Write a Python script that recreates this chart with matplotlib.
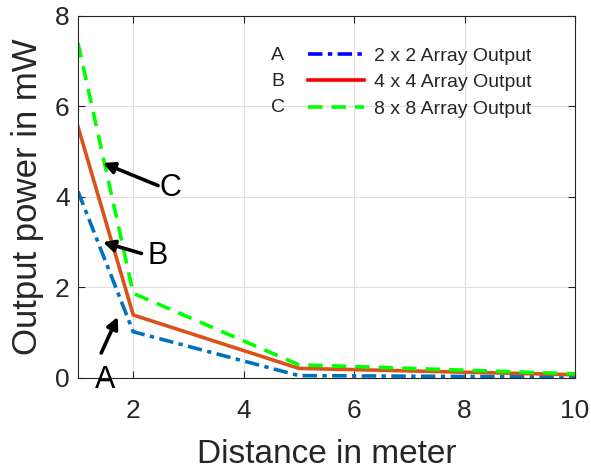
import matplotlib
matplotlib.use("Agg")
import matplotlib.pyplot as plt
from matplotlib.lines import Line2D

plt.rcParams['font.family'] = ['Liberation Sans', 'DejaVu Sans']

distance = [1, 2, 5, 10]
out_2x2 = [4.12, 1.02, 0.05, 0.02]
out_4x4 = [5.55, 1.39, 0.21, 0.07]
out_8x8 = [7.40, 1.87, 0.29, 0.09]

legend_labels = ['2 x 2 Array Output', '4 x 4 Array Output', '8 x 8 Array Output']
legend_tags = ['A', 'B', 'C']

txt = '#262626'

fig = plt.figure(figsize=(5.91, 4.70), dpi=100)
ax = fig.add_axes([0.132, 0.196, 0.841, 0.770])

ax.plot(distance, out_2x2, color='#0072BD', lw=2.6, linestyle=(0, (4, 1.5, 1.2, 1.5)))
ax.plot(distance, out_4x4, color='#D95319', lw=2.6)
ax.plot(distance, out_8x8, color='#00FF00', lw=2.6, linestyle=(0, (4, 2.5)))

ax.set_xlim(1, 10)
ax.set_ylim(0, 8)
ax.set_xticks([2, 4, 6, 8, 10])
ax.set_yticks([0, 2, 4, 6, 8])
ax.grid(True, color='#e0e0e0', lw=0.8)
ax.tick_params(labelsize=19, colors=txt, direction='in', length=5, top=True, right=True)
ax.tick_params(axis='x', pad=15)
ax.tick_params(axis='y', pad=6)
for s in ax.spines.values():
    s.set_color(txt)
    s.set_linewidth(0.8)
ax.set_xlabel('Distance in meter', fontsize=24, color=txt, labelpad=12)
ax.set_ylabel('Output power in mW', fontsize=25, color=txt, labelpad=8)

# annotations
arrow = dict(arrowstyle='-|>', color='black', lw=2.6, mutation_scale=17, shrinkA=0, shrinkB=0)
ax.annotate('', xy=(1.45, 4.75), xytext=(2.45, 4.25), arrowprops=arrow)
ax.text(2.47, 4.2, 'C', fontsize=22, color='black', va='center', ha='left')
ax.annotate('', xy=(1.45, 3.0), xytext=(2.15, 2.75), arrowprops=arrow)
ax.text(2.26, 2.7, 'B', fontsize=22, color='black', va='center', ha='left')
ax.annotate('', xy=(1.72, 1.35), xytext=(1.42, 0.55), arrowprops=arrow)
ax.text(1.49, -0.05, 'A', fontsize=22, color='black', va='center', ha='center', clip_on=False)

# legend
handles = [Line2D([], [], color='#0000FF', lw=2.6, linestyle=(0, (4, 1.5, 1.2, 1.5))),
           Line2D([], [], color='#FF0000', lw=2.6),
           Line2D([], [], color='#00FF00', lw=2.6, linestyle=(0, (4, 2.5)))]
leg = ax.legend(handles, legend_labels, loc='upper left', bbox_to_anchor=(0.447, 0.935),
                frameon=False, fontsize=14, handlelength=2.9, handletextpad=0.5,
                labelspacing=0.45, borderaxespad=0)
for t in leg.get_texts():
    t.set_color(txt)
for i, tag in enumerate(legend_tags):
    ax.text(0.402, 0.892 - i * 0.072, tag, transform=ax.transAxes, fontsize=14,
            color=txt, ha='center', va='center')

fig.savefig('out.png', dpi=100)
